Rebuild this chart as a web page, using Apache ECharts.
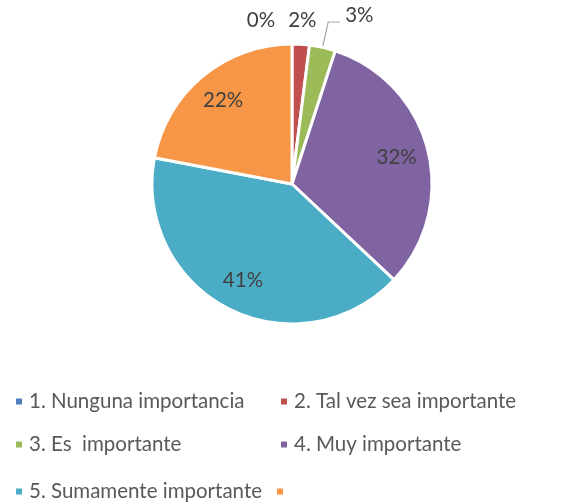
<!DOCTYPE html>
<html>
<head>
<meta charset="utf-8">
<script src="https://cdn.jsdelivr.net/npm/echarts@6/dist/echarts.min.js"></script>
<style>
html,body{margin:0;padding:0;background:#fff;}
#main{width:566px;height:504px;}
</style>
</head>
<body>
<div id="main"></div>
<script>
var categories = ['1. Nunguna importancia', '2. Tal vez sea importante', '3. Es  importante', '4. Muy importante', '5. Sumamente importante', ' '];
var values = [0, 2, 3, 32, 41, 22];
var colors = ['#4F81BD', '#C0504D', '#9BBB59', '#8064A2', '#4BACC6', '#F79646'];

var FONT = 'Lato';
var chart = echarts.init(document.getElementById('main'));

// which label style each slice uses: 'ring' = floating label above slice, 'line' = with leader line, 'in' = inside
var labelKind = ['ring', 'ring', 'line', 'in', 'in', 'in'];

function mk(kindWanted, extra) {
  return categories.map(function (c, i) {
    var d = { name: c, value: values[i], label: { show: labelKind[i] === kindWanted } };
    if (extra) extra(d, i);
    return d;
  });
}

var mainData = mk('line', function (d, i) {
  d.itemStyle = { color: colors[i] };
  d.labelLine = { show: labelKind[i] === 'line' };
});

var legendPos = [[14, 391], [279, 391], [14, 434], [279, 434], [14, 481], [275, 481]];
var legends = categories.map(function (c, i) {
  return {
    left: legendPos[i][0], top: legendPos[i][1],
    padding: 0,
    data: [{ name: c, itemStyle: { color: colors[i] } }],
    itemWidth: 8, itemHeight: 8, icon: 'rect',
    itemGap: 0,
    selectedMode: false,
    textStyle: { fontFamily: FONT, fontSize: 20.5, color: '#595959', padding: [0, 0, 0, 1] }
  };
});

var labelText = { formatter: '{c}%', fontFamily: FONT, fontSize: 20.5, color: '#404040' };

chart.setOption({
  animation: false,
  color: colors,
  legend: legends,
  series: [
    {
      type: 'pie',
      center: [292, 184],
      radius: [0, 140],
      startAngle: 90,
      clockwise: true,
      avoidLabelOverlap: false,
      itemStyle: { borderColor: '#fff', borderWidth: 3 },
      label: Object.assign({ position: 'outside', lineHeight: 14 }, labelText),
      labelLine: { length: 26, length2: 12, lineStyle: { color: '#a6a6a6', width: 1.2 } },
      labelLayout: { hideOverlap: false, verticalAlign: 'bottom' },
      data: mainData
    },
    {
      type: 'pie',
      center: [292, 184],
      radius: [70, 140],
      startAngle: 90,
      clockwise: true,
      silent: true,
      itemStyle: { color: 'rgba(0,0,0,0)' },
      label: Object.assign({ position: 'inside' }, labelText),
      labelLayout: { hideOverlap: false },
      labelLine: { show: false },
      data: mk('in')
    },
    {
      type: 'pie',
      center: [292, 184],
      radius: [150, 172],
      startAngle: 90,
      clockwise: true,
      silent: true,
      itemStyle: { color: 'rgba(0,0,0,0)' },
      label: Object.assign({ position: 'inside' }, labelText),
      labelLayout: function (p) {
        var o = { hideOverlap: false };
        if (p.dataIndex === 0) o.dx = -31;
        return o;
      },
      labelLine: { show: false },
      data: mk('ring')
    }
  ]
});
</script>
</body>
</html>
